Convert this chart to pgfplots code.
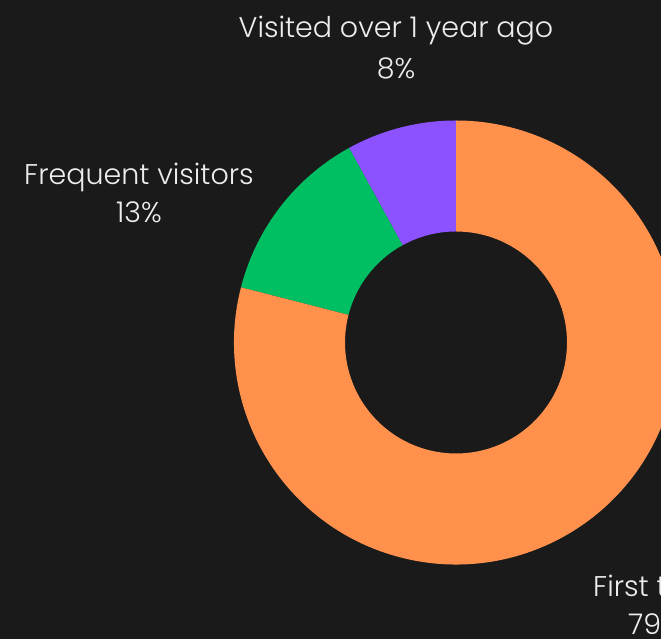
\documentclass[border=0pt]{standalone}
\usepackage{pgfplots}
\pgfplotsset{compat=1.18}
\usepackage{fontspec}
\setmainfont{Poppins Light}
\definecolor{bg}{HTML}{1A1A1A}
\definecolor{corange}{HTML}{FF914D}
\definecolor{cgreen}{HTML}{00BF63}
\definecolor{cpurple}{HTML}{8C52FF}
\definecolor{txt}{HTML}{EDEDED}
% shares (percent), counter-clockwise from 12 o'clock
\def\vA{8}  % Visited over 1 year ago
\def\vB{13} % Frequent visitors
\def\vC{79} % First time visitors
\begin{document}
\begin{tikzpicture}
\fill[bg] (0,0) rectangle (661pt,639pt);
\clip (0,0) rectangle (661pt,639pt);
\begin{axis}[at={(0,0)}, anchor=south west, scale only axis,
  width=661pt, height=639pt, xmin=0, xmax=661, ymin=0, ymax=639,
  hide axis, clip=false]
\pgfmathsetmacro{\aA}{90}
\pgfmathsetmacro{\aB}{90+\vA*3.6}
\pgfmathsetmacro{\aC}{90+(\vA+\vB)*3.6}
\pgfmathsetmacro{\aD}{90+(\vA+\vB+\vC)*3.6}
\fill[cpurple] ([shift={(\aA:222pt)}]axis cs:456,296.5) arc[start angle=\aA, end angle=\aB, radius=222pt]
  -- ([shift={(\aB:111pt)}]axis cs:456,296.5) arc[start angle=\aB, end angle=\aA, radius=111pt] -- cycle;
\fill[cgreen] ([shift={(\aB:222pt)}]axis cs:456,296.5) arc[start angle=\aB, end angle=\aC, radius=222pt]
  -- ([shift={(\aC:111pt)}]axis cs:456,296.5) arc[start angle=\aC, end angle=\aB, radius=111pt] -- cycle;
\fill[corange] ([shift={(\aC:222pt)}]axis cs:456,296.5) arc[start angle=\aC, end angle=\aD, radius=222pt]
  -- ([shift={(\aD:111pt)}]axis cs:456,296.5) arc[start angle=\aD, end angle=\aC, radius=111pt] -- cycle;
\node[txt, anchor=base, font=\fontsize{28.5}{32}\selectfont] at (axis cs:396,601) {Visited over 1 year ago};
\node[txt, anchor=base, font=\fontsize{28.5}{32}\selectfont] at (axis cs:396,560) {8\%};
\node[txt, anchor=base, font=\fontsize{28.5}{32}\selectfont] at (axis cs:139,454) {Frequent visitors};
\node[txt, anchor=base, font=\fontsize{28.5}{32}\selectfont] at (axis cs:139,416) {13\%};
\node[txt, anchor=base west, inner sep=0pt, font=\fontsize{28.5}{32}\selectfont] at (axis cs:593,42) {First time visitors};
\node[txt, anchor=base west, inner sep=0pt, font=\fontsize{28.5}{32}\selectfont] at (axis cs:628,4) {79\%};
\end{axis}
\end{tikzpicture}
\end{document}
